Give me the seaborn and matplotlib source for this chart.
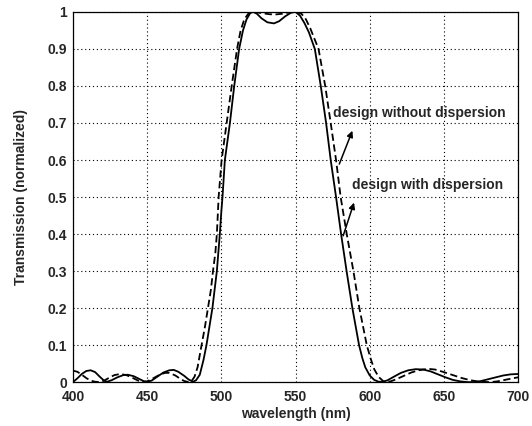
import numpy as np
import pandas as pd
import matplotlib
matplotlib.use("Agg")
import matplotlib.pyplot as plt
import seaborn as sns

# Curva "design with dispersion" (linea continua)
wl_disp = [400, 403, 406, 409, 412, 415, 418, 421, 423, 426, 430, 434, 437, 441,
           445, 448, 450, 453, 457, 461, 465, 468, 471, 475, 478, 481, 483, 485.5,
           488, 490, 492, 494, 495.5, 497, 498, 499, 500, 500.8, 502.4, 505.8,
           508.7, 512, 514.6, 517, 519.5, 521.5, 524, 527, 531, 535.5, 539, 543,
           547, 550, 553, 556, 559, 563, 567, 570.6, 573.7, 577.3, 580.7, 584.4,
           588.3, 592.8, 595, 597, 600, 603, 606, 609, 612, 616, 621, 626, 631,
           636, 641, 646, 651, 656, 661, 666, 670, 675, 680, 685, 690, 695, 700]
tr_disp = [0.000, 0.010, 0.022, 0.030, 0.032, 0.027, 0.015, 0.004, 0.001, 0.005,
           0.013, 0.019, 0.020, 0.016, 0.008, 0.002, 0.001, 0.004, 0.015, 0.026,
           0.032, 0.033, 0.028, 0.017, 0.007, 0.001, 0.005, 0.020, 0.060, 0.100,
           0.150, 0.200, 0.250, 0.300, 0.350, 0.400, 0.460, 0.500, 0.600, 0.700,
           0.800, 0.900, 0.950, 0.980, 0.997, 1.000, 0.995, 0.983, 0.972, 0.969,
           0.975, 0.988, 0.998, 1.000, 0.990, 0.970, 0.945, 0.900, 0.800, 0.700,
           0.600, 0.500, 0.400, 0.300, 0.200, 0.100, 0.065, 0.040, 0.018, 0.006,
           0.001, 0.001, 0.005, 0.014, 0.025, 0.032, 0.035, 0.034, 0.029, 0.021,
           0.013, 0.006, 0.002, 0.000, 0.000, 0.003, 0.008, 0.013, 0.018, 0.021,
           0.022]

# Curva "design without dispersion" (linea discontinua)
wl_nodisp = [400, 403, 406, 409, 412, 415, 418, 421, 425, 428, 432, 436, 440, 444,
             447, 450, 454, 458, 462, 465, 469, 472, 475, 478, 480, 482, 484,
             486.7, 489, 491, 493, 494.4, 496, 497, 498.2, 500.2, 503.6, 507,
             510.6, 513, 515.5, 518.5, 522, 527, 532, 536, 541, 546, 551, 554,
             557, 560, 565.5, 570, 573.7, 577.3, 580.4, 584.5, 589, 593, 598,
             600.5, 603, 606, 609, 611, 614, 618, 623, 628, 633, 639, 644, 650,
             656, 662, 668, 674, 681, 686, 691, 696, 700]
tr_nodisp = [0.031, 0.028, 0.020, 0.011, 0.004, 0.001, 0.000, 0.004, 0.013, 0.019,
             0.022, 0.019, 0.012, 0.004, 0.001, 0.002, 0.010, 0.019, 0.025, 0.025,
             0.018, 0.010, 0.003, 0.000, 0.003, 0.015, 0.040, 0.100, 0.150, 0.200,
             0.250, 0.300, 0.350, 0.400, 0.500, 0.600, 0.700, 0.800, 0.900, 0.950,
             0.980, 0.997, 1.000, 0.997, 0.994, 0.993, 0.995, 0.999, 1.000, 0.995,
             0.980, 0.955, 0.900, 0.800, 0.700, 0.600, 0.500, 0.400, 0.300, 0.200,
             0.100, 0.065, 0.035, 0.014, 0.003, 0.000, 0.002, 0.008, 0.017, 0.026,
             0.032, 0.036, 0.034, 0.027, 0.019, 0.011, 0.005, 0.001, 0.000, 0.002,
             0.006, 0.010, 0.013]

x_ticks = [400, 450, 500, 550, 600, 650, 700]
y_ticks = [0, 0.1, 0.2, 0.3, 0.4, 0.5, 0.6, 0.7, 0.8, 0.9, 1]
y_ticklabels = ["0", "0.1", "0.2", "0.3", "0.4", "0.5", "0.6", "0.7", "0.8", "0.9", "1"]

df = pd.concat([
    pd.DataFrame({"wl": wl_disp, "T": tr_disp, "design": "with"}),
    pd.DataFrame({"wl": wl_nodisp, "T": tr_nodisp, "design": "without"}),
])

sns.set_style("white")
plt.rcParams["font.family"] = ["Liberation Sans", "DejaVu Sans"]
plt.rcParams["font.weight"] = "bold"

fig = plt.figure(figsize=(5.32, 4.26), dpi=100)
ax = fig.add_axes([0.137, 0.103, 0.837, 0.869])

sns.lineplot(data=df, x="wl", y="T", style="design", color="black",
             dashes={"with": "", "without": (4, 2)}, linewidth=1.3,
             legend=False, ax=ax, sort=False)

ax.set_xlim(400, 700)
ax.set_ylim(0, 1)
ax.set_xticks(x_ticks)
ax.set_yticks(y_ticks)
ax.set_yticklabels(y_ticklabels)
ax.grid(True, color="black", linestyle=(0, (1, 2.5)), linewidth=0.8)
ax.tick_params(direction="in", length=3, labelsize=10, color="black")
ax.tick_params(axis="x", pad=6)
ax.tick_params(axis="y", pad=4)
for s in ax.spines.values():
    s.set_color("black")
    s.set_linewidth(0.9)

ax.set_xlabel("wavelength (nm)", fontsize=10, fontweight="bold", labelpad=2)
ax.set_ylabel("Transmission (normalized)", fontsize=10, fontweight="bold", labelpad=14)

ax.text(575, 0.727, "design without dispersion", fontsize=10, fontweight="bold",
        va="center", ha="left")
ax.text(588, 0.532, "design with dispersion", fontsize=10, fontweight="bold",
        va="center", ha="left")
ax.annotate("", xy=(589, 0.686), xytext=(578.8, 0.582),
            arrowprops=dict(arrowstyle="-|>", color="black", lw=1.1, mutation_scale=9))
ax.annotate("", xy=(590, 0.492), xytext=(581.5, 0.388),
            arrowprops=dict(arrowstyle="-|>", color="black", lw=1.1, mutation_scale=9))

fig.savefig("out.png", dpi=100)
